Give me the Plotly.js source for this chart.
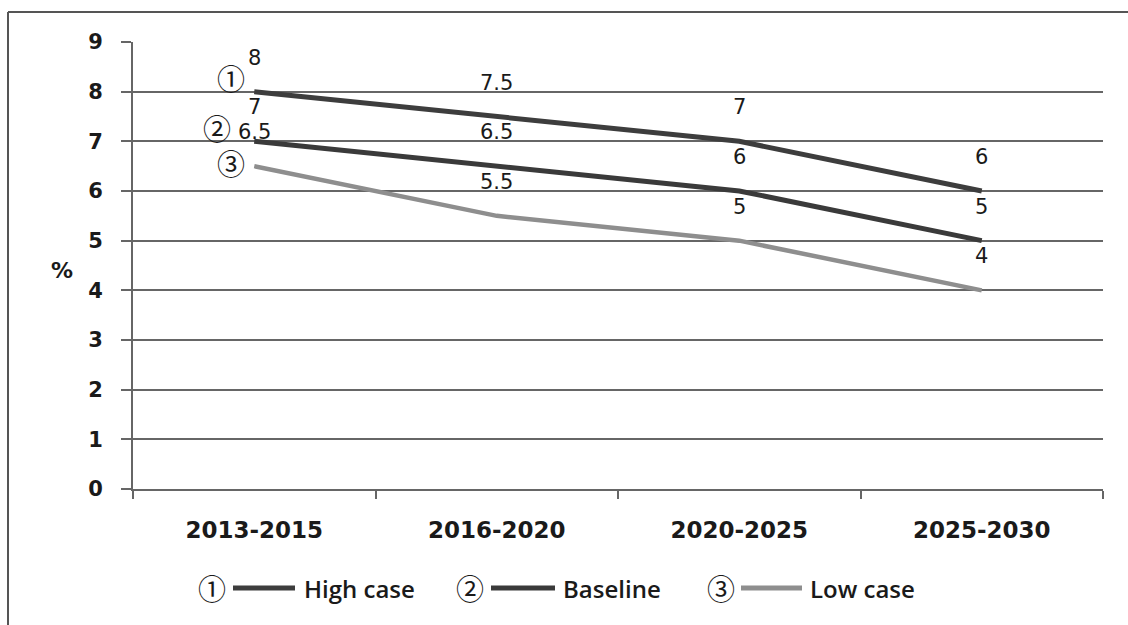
<!DOCTYPE html>
<html>
<head>
<meta charset="utf-8">
<script src="https://cdn.plot.ly/plotly-3.0.1.min.js"></script>
<style>html,body{margin:0;padding:0;background:#fff;}#chart{width:1128px;height:625px;}</style>
</head>
<body>
<div id="chart"></div>
<script>
const categories = ["2013-2015", "2016-2020", "2020-2025", "2025-2030"];
const highCase = [8, 7.5, 7, 6];
const baseline = [7, 6.5, 6, 5];
const lowCase = [6.5, 5.5, 5, 4];
const seriesNames = ["High case", "Baseline", "Low case"];
const seriesMarks = ["①", "②", "③"];
const yTicks = [0, 1, 2, 3, 4, 5, 6, 7, 8, 9];

const series = [highCase, baseline, lowCase];
const colors = ["#3d3d3d", "#3a3a3a", "#8e8e8e"];
const widths = [5, 5, 4.5];

// plot-area geometry (pixels)
const L = 133, R = 1103, T = 42, B = 489;
const px = x => (x - L) / (R - L);
const py = y => (B - y) / (B - T);

const traces = series.map((vals, i) => ({
  type: "scatter", mode: "lines", x: categories, y: vals, name: seriesNames[i],
  line: {color: colors[i], width: widths[i]}, showlegend: false, hoverinfo: "skip"
}));

const annotations = [];
// data labels
series.forEach((vals, i) => {
  vals.forEach((v, j) => {
    annotations.push({x: categories[j], y: v, xref: "x", yref: "y", text: String(v),
      showarrow: false, yshift: 34, xanchor: "center", yanchor: "middle",
      font: {family: "DejaVu Sans", size: 21, color: "#1a1a1a"}});
  });
});
// circled marks near first point
const markShift = [[-23, 14], [-37, 13], [-23, 3]];
series.forEach((vals, i) => {
  annotations.push({x: categories[0], y: vals[0], xref: "x", yref: "y", text: seriesMarks[i],
    showarrow: false, xshift: markShift[i][0], yshift: markShift[i][1], xanchor: "center", yanchor: "middle",
    font: {family: "Noto Sans CJK JP", size: 28, color: "#1a1a1a"}});
});
// % label
annotations.push({x: px(62), y: py(270), xref: "paper", yref: "paper", text: "<b>%</b>",
  showarrow: false, xanchor: "center", yanchor: "middle",
  font: {family: "DejaVu Sans", size: 22, color: "#1a1a1a"}});

// legend
const legY = 588;
const legItems = [
  {mark: 212, l0: 233, l1: 295, txt: 302},
  {mark: 470, l0: 491, l1: 555, txt: 561},
  {mark: 721, l0: 741, l1: 802, txt: 808}
];
const shapes = [];
legItems.forEach((it, i) => {
  annotations.push({x: px(it.mark), y: py(legY), xref: "paper", yref: "paper", text: seriesMarks[i],
    showarrow: false, xanchor: "center", yanchor: "middle",
    font: {family: "Noto Sans CJK JP", size: 28, color: "#1a1a1a"}});
  annotations.push({x: px(it.txt), y: py(legY), xref: "paper", yref: "paper", text: seriesNames[i],
    xanchor: "left", yanchor: "middle", showarrow: false,
    font: {family: "Open Sans", size: 24, weight: 600, color: "#1a1a1a"}});
  shapes.push({type: "line", xref: "paper", yref: "paper", x0: px(it.l0), x1: px(it.l1),
    y0: py(legY), y1: py(legY), line: {color: colors[i], width: 5}});
});
// outer frame (top & left)
shapes.push({type: "line", xref: "paper", yref: "paper", x0: px(8), x1: px(1130), y0: py(12), y1: py(12),
  line: {color: "#555", width: 2}});
shapes.push({type: "line", xref: "paper", yref: "paper", x0: px(8), x1: px(8), y0: py(12), y1: py(630),
  line: {color: "#555", width: 2}});

const layout = {
  width: 1128, height: 625,
  margin: {l: L, r: 1128 - R, t: T, b: 625 - B},
  paper_bgcolor: "#fff", plot_bgcolor: "#fff",
  showlegend: false,
  xaxis: {
    type: "category", range: [-0.5, 3.5], showgrid: false, zeroline: false,
    showline: true, linecolor: "#666", linewidth: 2,
    ticks: "outside", tickson: "boundaries", ticklen: 8, tickwidth: 2, tickcolor: "#666",
    ticklabelstandoff: 19,
    tickfont: {family: "DejaVu Sans", size: 23, weight: "bold", color: "#1a1a1a"}
  },
  yaxis: {
    range: [0, 9], tickvals: yTicks, showgrid: true, gridcolor: "#666", gridwidth: 2,
    zeroline: false, showline: true, linecolor: "#666", linewidth: 2,
    ticks: "outside", ticklen: 10, tickwidth: 2, tickcolor: "#666",
    ticklabelstandoff: 14,
    tickfont: {family: "DejaVu Sans", size: 21, weight: "bold", color: "#1a1a1a"}
  },
  annotations: annotations,
  shapes: shapes
};

Plotly.newPlot("chart", traces, layout, {staticPlot: true, displayModeBar: false});
</script>
</body>
</html>
